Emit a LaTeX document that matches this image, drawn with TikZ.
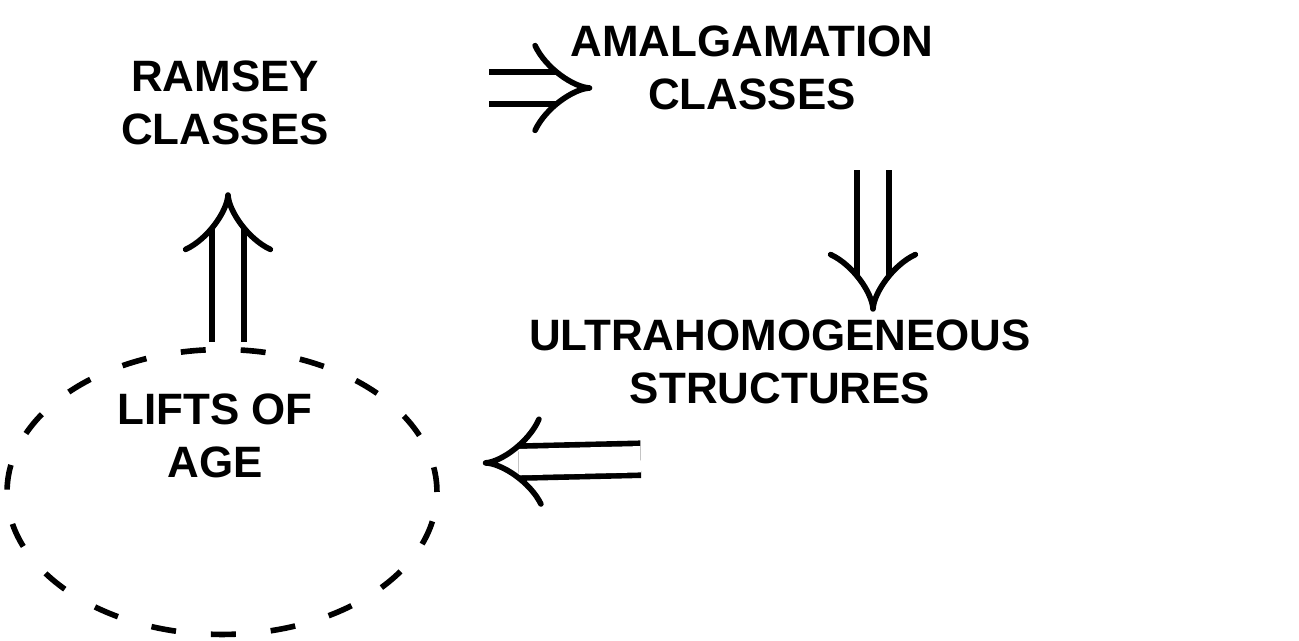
\documentclass[tikz,border=0pt]{standalone}
\usepackage{fontspec}
\setmainfont{Liberation Sans}
\usetikzlibrary{arrows.meta,positioning,calc,shapes.geometric}

\begin{document}
\begin{tikzpicture}[x=0.02cm,y=0.02cm,
  word/.style={font=\fontsize{25}{30}\selectfont\bfseries, align=center, inner sep=0pt},
  imp/.style={double, double distance=15pt, line width=3.2pt, -{Implies[scale=1.3]}},
  agering/.style={draw, ellipse, dashed, dash pattern=on 0.5cm off 0.7cm, line width=3.2pt,
    minimum width=8.6cm, minimum height=5.7cm, inner sep=0pt}]
\useasboundingbox (0,0) rectangle (1299,641);
% the four classes
\node[word] (ramsey) at (225,538) {RAMSEY\\CLASSES};
\node[word] (amalgam) at (752,573) {AMALGAMATION\\CLASSES};
\node[word] (ultra) at (780,279) {ULTRAHOMOGENEOUS\\STRUCTURES};
\node[agering] (agering) at (222,149) {};
\node[word] (lifts) at (215,205) {LIFTS OF\\AGE};
% implications
\draw[imp] ($(ramsey.east)+(160,15)$) -- ($(ramsey.east -| amalgam.west)+(22,15)$);
\draw[imp] ($(amalgam.south)+(121,-60)$) -- ($(amalgam.south |- ultra.north)+(121,8)$);
\draw[imp] ($(ultra.south west)+(112,-55)$) -- ($(agering.east)+(43,29)$);
\draw[imp] ($(agering.north)+(6,5)$) -- ($(ramsey.south)+(3,-47)$);
\end{tikzpicture}
\end{document}
